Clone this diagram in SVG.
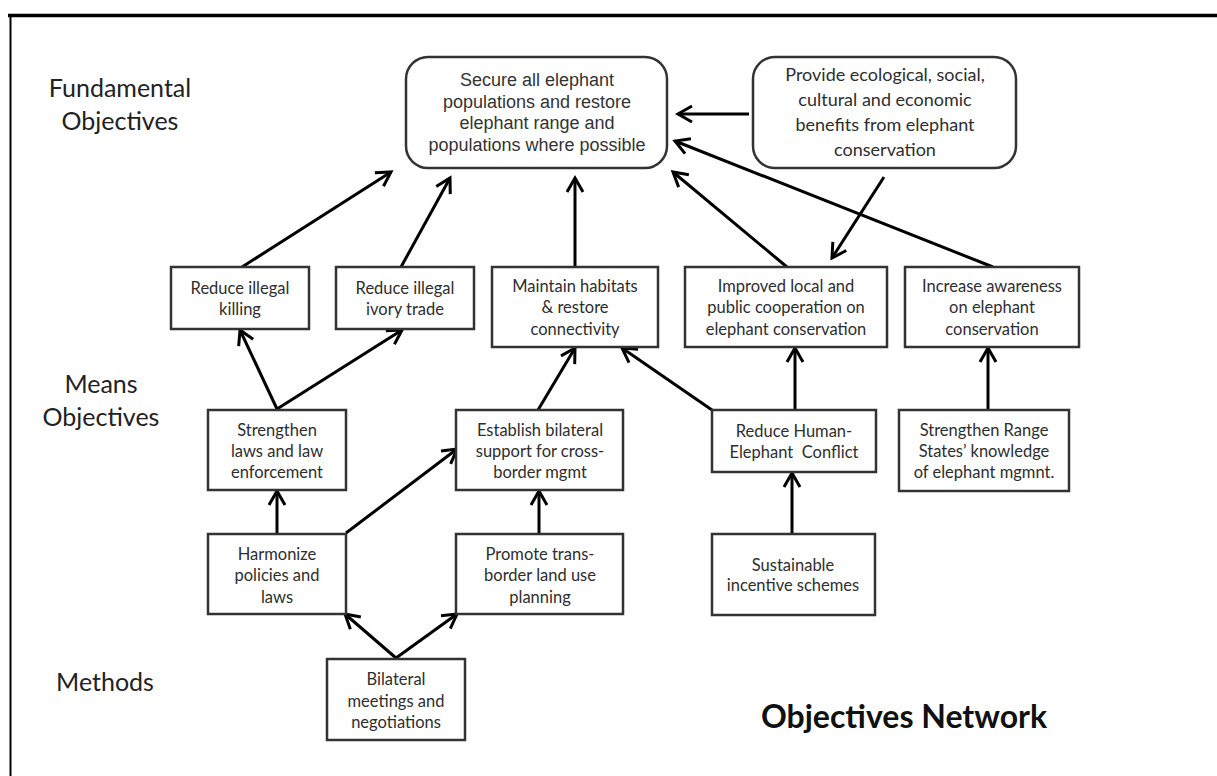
<svg xmlns="http://www.w3.org/2000/svg" width="1217" height="776" viewBox="0 0 1217 776">
<style>
.c{font-family:Lato,"Open Sans",sans-serif;fill:#2e2e2e;text-anchor:middle}
.bt{font-size:16.5px}
.lab{font-size:25px;fill:#222}
.ar{font-family:"Liberation Sans",Arial,sans-serif;font-size:18px;fill:#333;text-anchor:middle}
.box{fill:#fff;stroke:#333;stroke-width:2.5}
.cn{stroke:#000;stroke-width:3;fill:none}
</style>
<defs>
<marker id="ah" markerUnits="userSpaceOnUse" markerWidth="24" markerHeight="24" viewBox="-18 -12 24 24" refX="0" refY="0" orient="auto" overflow="visible">
<path d="M-14,-8 L0,0 L-14,8" fill="none" stroke="#000" stroke-width="3"/>
</marker>
</defs>
<rect width="1217" height="776" fill="#fff"/>
<g id="frame">
<line x1="8" y1="15.5" x2="1217" y2="15.5" stroke="#000" stroke-width="3.5"/>
<line x1="10.5" y1="15" x2="10.5" y2="776" stroke="#000" stroke-width="2"/>
</g>
<g id="labels">
<text class="c lab" x="120" y="97">Fundamental</text>
<text class="c lab" x="120" y="130">Objectives</text>
<text class="c lab" x="101" y="393">Means</text>
<text class="c lab" x="101" y="426">Objectives</text>
<text class="c lab" x="105" y="691">Methods</text>
<text class="c" x="904" y="728" style="font-size:32px;font-weight:bold;fill:#111">Objectives Network</text>
</g>
<g id="connectors">
<line class="cn" x1="242" y1="267" x2="391" y2="172" marker-end="url(#ah)"/>
<line class="cn" x1="401" y1="267" x2="450" y2="178" marker-end="url(#ah)"/>
<line class="cn" x1="575" y1="267" x2="575" y2="178" marker-end="url(#ah)"/>
<line class="cn" x1="787" y1="267" x2="673" y2="172" marker-end="url(#ah)"/>
<line class="cn" x1="993" y1="267" x2="675" y2="141" marker-end="url(#ah)"/>
<line class="cn" x1="884" y1="177" x2="832" y2="258" marker-end="url(#ah)"/>
<line class="cn" x1="749" y1="114" x2="678" y2="114" marker-end="url(#ah)"/>
<line class="cn" x1="277" y1="409" x2="240" y2="330" marker-end="url(#ah)"/>
<line class="cn" x1="277" y1="409" x2="402" y2="330" marker-end="url(#ah)"/>
<line class="cn" x1="538" y1="410" x2="575" y2="348" marker-end="url(#ah)"/>
<line class="cn" x1="712" y1="410" x2="622" y2="348" marker-end="url(#ah)"/>
<line class="cn" x1="795" y1="410" x2="795" y2="348" marker-end="url(#ah)"/>
<line class="cn" x1="988" y1="410" x2="988" y2="348" marker-end="url(#ah)"/>
<line class="cn" x1="277" y1="534" x2="277" y2="491" marker-end="url(#ah)"/>
<line class="cn" x1="346" y1="533" x2="457" y2="449" marker-end="url(#ah)"/>
<line class="cn" x1="539" y1="534" x2="539" y2="491" marker-end="url(#ah)"/>
<line class="cn" x1="792" y1="534" x2="792" y2="473" marker-end="url(#ah)"/>
<line class="cn" x1="396" y1="658" x2="345" y2="614" marker-end="url(#ah)"/>
<line class="cn" x1="396" y1="658" x2="457" y2="614" marker-end="url(#ah)"/>
</g>
<g id="n-secure">
<rect class="box" x="406" y="57" width="261" height="111" rx="22"/>
<text class="ar" x="537" y="86">Secure all elephant</text>
<text class="ar" x="537" y="107.5">populations and restore</text>
<text class="ar" x="537" y="129">elephant range and</text>
<text class="ar" x="537" y="150.5">populations where possible</text>
</g>
<g id="n-provide">
<rect class="box" x="753" y="57" width="263" height="111" rx="22"/>
<text class="c" style="font-size:18px" x="885" y="81">Provide ecological, social,</text>
<text class="c" style="font-size:18px" x="885" y="106">cultural and economic</text>
<text class="c" style="font-size:18px" x="885" y="131">benefits from elephant</text>
<text class="c" style="font-size:18px" x="885" y="156">conservation</text>
</g>
<g id="n-killing">
<rect class="box" x="171" y="267" width="138" height="62"/>
<text class="c bt" x="240" y="294">Reduce illegal</text>
<text class="c bt" x="240" y="315">killing</text>
</g>
<g id="n-ivory">
<rect class="box" x="336" y="267" width="138" height="62"/>
<text class="c bt" x="405" y="294">Reduce illegal</text>
<text class="c bt" x="405" y="315">ivory trade</text>
</g>
<g id="n-habitats">
<rect class="box" x="492" y="267" width="166" height="80"/>
<text class="c bt" x="575" y="292">Maintain habitats</text>
<text class="c bt" x="575" y="313">&amp; restore</text>
<text class="c bt" x="575" y="335">connectivity</text>
</g>
<g id="n-cooperation">
<rect class="box" x="685" y="267" width="202" height="80"/>
<text class="c bt" x="786" y="292">Improved local and</text>
<text class="c bt" x="786" y="313">public cooperation on</text>
<text class="c bt" x="786" y="335">elephant conservation</text>
</g>
<g id="n-awareness">
<rect class="box" x="905" y="267" width="174" height="80"/>
<text class="c bt" x="992" y="292">Increase awareness</text>
<text class="c bt" x="992" y="313">on elephant</text>
<text class="c bt" x="992" y="335">conservation</text>
</g>
<g id="n-laws">
<rect class="box" x="208" y="410" width="138" height="80"/>
<text class="c bt" x="277" y="436">Strengthen</text>
<text class="c bt" x="277" y="457">laws and law</text>
<text class="c bt" x="277" y="478">enforcement</text>
</g>
<g id="n-bilateral-support">
<rect class="box" x="456" y="410" width="167" height="80"/>
<text class="c bt" x="540" y="436">Establish bilateral</text>
<text class="c bt" x="540" y="457">support for cross-</text>
<text class="c bt" x="540" y="478">border mgmt</text>
</g>
<g id="n-hec">
<rect class="box" x="712" y="410" width="164" height="62"/>
<text class="c bt" x="794" y="437" xml:space="preserve">Reduce Human-</text>
<text class="c bt" x="794" y="458" xml:space="preserve">Elephant  Conflict</text>
</g>
<g id="n-range">
<rect class="box" x="899" y="410" width="170" height="81"/>
<text class="c bt" x="984" y="436">Strengthen Range</text>
<text class="c bt" x="984" y="457">States’ knowledge</text>
<text class="c bt" x="984" y="478">of elephant mgmnt.</text>
</g>
<g id="n-harmonize">
<rect class="box" x="208" y="534" width="138" height="80"/>
<text class="c bt" x="277" y="560">Harmonize</text>
<text class="c bt" x="277" y="581">policies and</text>
<text class="c bt" x="277" y="603">laws</text>
</g>
<g id="n-promote">
<rect class="box" x="456" y="534" width="167" height="80"/>
<text class="c bt" x="540" y="560">Promote trans-</text>
<text class="c bt" x="540" y="581">border land use</text>
<text class="c bt" x="540" y="603">planning</text>
</g>
<g id="n-incentive">
<rect class="box" x="712" y="534" width="163" height="81"/>
<text class="c bt" x="793" y="571">Sustainable</text>
<text class="c bt" x="793" y="591">incentive schemes</text>
</g>
<g id="n-meetings">
<rect class="box" x="327" y="659" width="138" height="81"/>
<text class="c bt" x="396" y="685">Bilateral</text>
<text class="c bt" x="396" y="707">meetings and</text>
<text class="c bt" x="396" y="728">negotiations</text>
</g>
</svg>
